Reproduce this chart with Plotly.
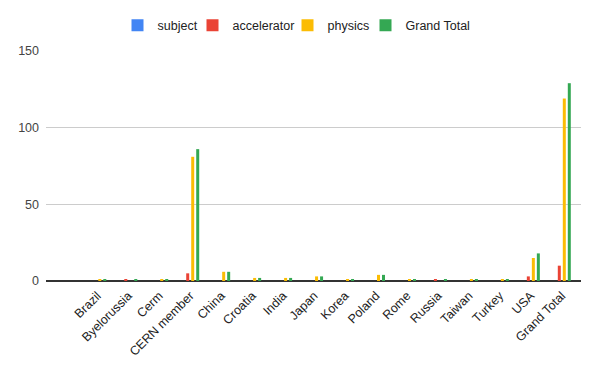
import plotly.graph_objects as go

categories = ["Brazil", "Byelorussia", "Cerm", "CERN member", "China", "Croatia",
              "India", "Japan", "Korea", "Poland", "Rome", "Russia", "Taiwan",
              "Turkey", "USA", "Grand Total"]
subject = [0, 0, 0, 0, 0, 0, 0, 0, 0, 0, 0, 0, 0, 0, 0, 0]
accelerator = [0, 1, 0, 5, 0, 0, 0, 0, 0, 0, 0, 1, 0, 0, 3, 10]
physics = [1, 0, 1, 81, 6, 2, 2, 3, 1, 4, 1, 0, 1, 1, 15, 119]
grand_total = [1, 1, 1, 86, 6, 2, 2, 3, 1, 4, 1, 1, 1, 1, 18, 129]

series = [
    ("subject", subject, "#4285F4"),
    ("accelerator", accelerator, "#EA4335"),
    ("physics", physics, "#FBBC04"),
    ("Grand Total", grand_total, "#34A853"),
]

# the page body has an 8px default margin; size the figure to fill the rest
W, H = 592, 363
OFF = 8
legend_left_px = [133, 208, 303, 381]
legend_ids = ["legend", "legend2", "legend3", "legend4"]

fig = go.Figure()
for (name, vals, color), lid in zip(series, legend_ids):
    fig.add_trace(go.Bar(x=categories, y=vals, name=name, legend=lid,
                         marker=dict(color=color, line=dict(width=0))))

legend_common = dict(orientation="h", xanchor="left", xref="container",
                     y=1 - 17.5 / H, yanchor="middle", yref="container",
                     font=dict(size=12.5, color="#222"), itemwidth=30,
                     bgcolor="rgba(0,0,0,0)")
layout_legends = {}
for lid, px in zip(legend_ids, legend_left_px):
    layout_legends[lid] = dict(legend_common, x=(px - 15.5 - OFF) / W)

fig.update_layout(
    width=W, height=H,
    margin=dict(l=38, r=19, t=43, b=90, autoexpand=False),
    paper_bgcolor="white", plot_bgcolor="white",
    barmode="group", bargap=0.354, bargroupgap=0.4,
    font=dict(family="Arial, Liberation Sans, sans-serif", size=12.5, color="#222"),
    showlegend=True,
    **layout_legends,
)
fig.update_xaxes(type="category", range=[-1.657, 15.62], tickangle=-45,
                 showgrid=False, showline=False, ticks="", ticklabelstandoff=4,
                 tickfont=dict(size=12.5, color="#222"))
fig.update_yaxes(range=[0, 150], tickvals=[0, 50, 100, 150],
                 gridcolor="#cccccc", gridwidth=1,
                 zeroline=True, zerolinecolor="#333333", zerolinewidth=2,
                 showline=False, ticks="", ticklabelstandoff=6,
                 tickfont=dict(size=12.5, color="#444"))

fig.write_html("out.html")
